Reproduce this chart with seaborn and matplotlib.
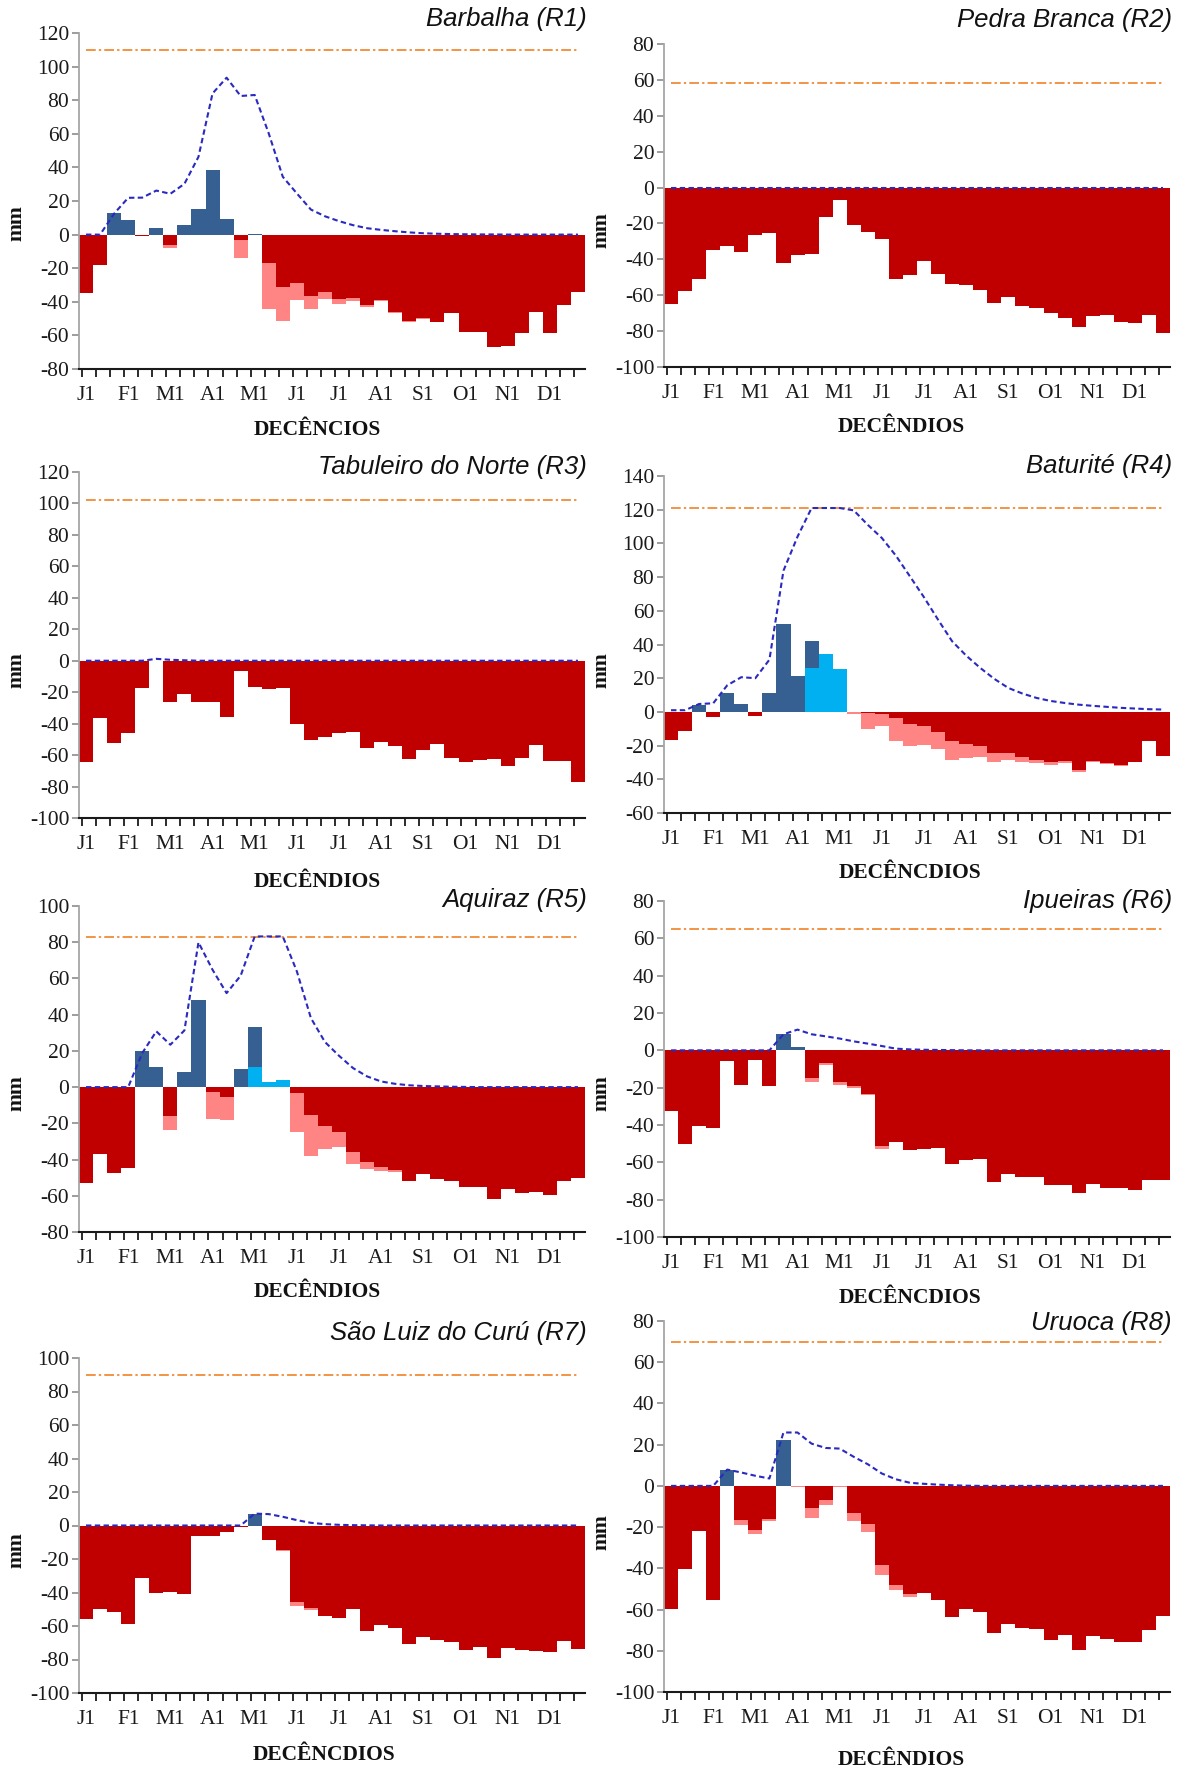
import numpy as np
import pandas as pd
import matplotlib
matplotlib.use("Agg")
import matplotlib.pyplot as plt
import seaborn as sns

sns.set_theme(style="white")
plt.rcParams['font.family'] = ['Liberation Serif', 'DejaVu Serif']
plt.rcParams['axes.unicode_minus'] = False

# ---------------- data ----------------
decendios = list(range(36))
month_labels = ["J1", "F1", "M1", "A1", "M1", "J1", "J1", "A1", "S1", "O1", "N1", "D1"]

titles = ["Barbalha (R1)", "Pedra Branca (R2)", "Tabuleiro do Norte (R3)", "Baturité (R4)",
          "Aquiraz (R5)", "Ipueiras (R6)", "São Luiz do Curú (R7)", "Uruoca (R8)"]
xlabels = ["DECÊNCIOS", "DECÊNDIOS", "DECÊNDIOS", "DECÊNCDIOS",
           "DECÊNDIOS", "DECÊNCDIOS", "DECÊNCDIOS", "DECÊNDIOS"]
ylims = [(-80, 120), (-100, 80), (-100, 120), (-60, 140),
         (-80, 100), (-100, 80), (-100, 100), (-100, 80)]
cad = [110, 58, 102, 121, 83, 65, 90, 70]

r1_def = [-35.0, -18.0, 0, 0, -1.0, 0, -6.0, 0, 0, 0, 0, -3.0, 0, -17.0, -31.0, -28.6, -36.6, -34.2,
          -38.2, -37.8, -41.7, -39.0, -46.0, -51.7, -49.5, -52.0, -46.5, -57.7, -58.0, -67.0, -66.2,
          -58.5, -46.1, -58.6, -41.7, -34.2]
r1_pink = [0] * 6 + [-2.0, 0, 0, 0, 0, -10.7, 0, -27.5, -20.5, -10.4, -7.9, -4.4, -3.3, -2.0, -1.4,
                     -0.8, -0.5, -0.6, -0.5] + [0] * 11
r1_exc = [0, 0, 13.0, 8.5, 0, 4.2, 0, 5.6, 15.5, 38.2, 9.1, 0, 0.6] + [0] * 23
r1_lb = [0] * 36
r1_arm = [0, 0, 12.5, 21.9, 22.0, 26.2, 24.3, 30.2, 46.3, 84.0, 93.4, 82.5, 83.1, 60.2, 34.4, 24.5,
          14.9, 10.9, 8.0, 5.6, 3.8, 2.8, 2.0, 1.3, 0.8, 0.5, 0.3, 0.2, 0.1, 0.1] + [0] * 6

r2_def = [-65.1, -57.9, -51.0, -35.0, -32.6, -35.9, -26.6, -25.5, -41.9, -37.8, -36.8, -16.4, -7.1,
          -21.0, -24.9, -28.7, -50.8, -48.9, -40.7, -48.4, -54.0, -54.5, -56.9, -64.6, -61.2, -65.9,
          -67.3, -69.8, -72.6, -77.6, -71.6, -71.3, -74.8, -75.7, -71.3, -81.3]
r2_pink = [0] * 36
r2_exc = [0] * 36
r2_lb = [0] * 36
r2_arm = [0] * 36

r3_def = [-64.3, -36.4, -52.6, -45.9, -17.3, 0, -26.0, -21.1, -26.2, -26.0, -35.5, -6.3, -16.9, -17.8,
          -17.3, -40.2, -50.3, -48.8, -45.9, -45.2, -55.4, -51.8, -54.5, -62.4, -56.7, -52.9, -61.9,
          -64.3, -63.4, -62.4, -67.2, -61.9, -53.9, -63.8, -63.8, -77.0]
r3_pink = [0] * 36
r3_exc = [0] * 36
r3_lb = [0] * 36
r3_arm = [0] * 5 + [1.2, 0.6, 0.3] + [0] * 28

r4_def = [-16.8, -11.5, 0, -3.2, 0, 0, -2.4, 0, 0, 0, 0, 0, 0, 0, -0.5, -1.2, -3.8, -7.1, -8.5, -11.9,
          -17.4, -19.0, -20.4, -24.3, -24.3, -26.9, -28.3, -29.8, -29.2, -34.2, -28.9, -30.6, -31.6,
          -29.8, -17.2, -25.9]
r4_pink = [0] * 13 + [-1.0, -9.4, -6.9, -13.6, -13.3, -10.9, -10.4, -10.9, -8.3, -6.3, -5.5, -4.4,
                      -2.9, -2.3, -2.0, -1.0, -1.4, -0.9, -0.6, -0.4] + [0] * 3
r4_exc = [0, 0, 4.2, 0, 11.3, 4.7, 0, 11.3, 52.0, 21.1, 16.2] + [0] * 25
r4_lb = [0] * 10 + [25.9, 34.2, 25.3] + [0] * 23
r4_arm = [1.0, 1.0, 4.7, 5.1, 15.8, 20.6, 20.0, 31.0, 83.8, 104.0, 121.0, 121.0, 121.0, 119.6, 111.0,
          103.2, 92.7, 80.4, 68.0, 54.7, 41.9, 33.4, 26.1, 19.6, 14.2, 10.9, 8.3, 6.5, 5.3, 4.3, 3.6,
          3.0, 2.4, 2.0, 1.6, 1.4]

r5_def = [-52.7, -36.8, -47.5, -44.9, 0, 0, -16.2, 0, 0, -2.6, -5.5, 0, 0, 0, 0, -3.5, -15.5, -21.5,
          -24.7, -36.1, -41.3, -44.2, -45.7, -51.6, -47.9, -50.6, -52.1, -55.4, -55.4, -61.7, -56.4,
          -58.2, -57.8, -59.5, -52.1, -50.3]
r5_pink = [0] * 6 + [-7.4, 0, 0, -14.9, -12.5, 0, 0, 0, 0, -21.2, -22.3, -12.8, -8.4, -6.4, -3.8,
                     -2.0, -0.9, -0.4] + [0] * 12
r5_exc = [0, 0, 0, 0, 19.7, 10.9, 0, 8.1, 47.9, 0, 0, 9.9, 22.0] + [0] * 23
r5_lb = [0] * 12 + [11.0, 2.8, 3.9] + [0] * 21
r5_arm = [0, 0, 0, 0, 18.8, 30.8, 23.4, 31.3, 79.9, 64.8, 51.9, 61.5, 83.2, 83.2, 83.2, 63.9, 38.1,
          24.9, 17.3, 10.5, 5.9, 3.1, 1.8, 1.0, 0.6, 0.4, 0.2, 0.1] + [0] * 8

r6_def = [-32.7, -50.0, -40.7, -41.4, -5.9, -18.8, -5.4, -19.3, 0, 0, -14.6, -7.0, -16.8, -18.9,
          -23.2, -51.4, -49.3, -53.2, -52.7, -52.3, -60.7, -58.9, -58.4, -70.5, -66.1, -67.9, -67.9,
          -72.0, -72.0, -76.6, -71.8, -73.6, -73.6, -75.0, -69.3, -69.6]
r6_pink = [0] * 10 + [-2.4, -1.0, -1.8, -1.1, -0.6, -1.3] + [0] * 20
r6_exc = [0] * 8 + [8.9, 1.8] + [0] * 26
r6_lb = [0] * 36
r6_arm = [0] * 8 + [8.6, 11.1, 8.6, 7.5, 6.3, 4.8, 3.6, 2.3, 0.9, 0.5, 0.3, 0.2, 0.1] + [0] * 15

r7_def = [-56.0, -49.9, -51.4, -59.0, -31.2, -40.5, -39.5, -40.7, -6.2, -6.2, -4.0, -1.0, 0, -8.5,
          -14.7, -45.7, -49.5, -53.8, -55.0, -49.9, -63.0, -59.4, -61.0, -70.9, -66.3, -68.3, -69.3,
          -74.3, -72.5, -79.2, -72.9, -74.3, -75.1, -75.7, -68.7, -73.9]
r7_pink = [0] * 14 + [-0.5, -2.2, -0.7] + [0] * 19
r7_exc = [0] * 12 + [6.8] + [0] * 23
r7_lb = [0] * 36
r7_arm = [0] * 12 + [7.1, 6.8, 5.2, 3.2, 1.6, 0.8, 0.4, 0.2, 0.1] + [0] * 15

r8_def = [-59.5, -40.1, -21.8, -55.5, 0, -16.7, -21.2, -16.3, 0, 0, -10.5, -7.0, 0, -13.1, -18.3,
          -38.5, -48.2, -52.6, -51.8, -55.5, -63.6, -59.5, -61.2, -71.4, -66.8, -68.8, -69.4, -74.6,
          -72.2, -79.8, -73.0, -74.1, -75.6, -75.9, -70.1, -63.3]
r8_pink = [0] * 5 + [-2.1, -1.9, -0.7, 0, -0.5, -5.0, -2.1, -0.3, -3.9, -4.0, -4.5, -2.4, -1.3] + [0] * 18
r8_exc = [0] * 4 + [7.9, 0, 0, 0, 22.2] + [0] * 27
r8_lb = [0] * 36
r8_arm = [0] * 4 + [7.9, 6.5, 4.9, 3.6, 25.9, 25.9, 20.5, 18.4, 18.1, 14.1, 10.5, 6.0, 3.2, 1.5, 1.0,
                    0.6, 0.3, 0.1] + [0] * 14

panels = [
    (r1_def, r1_pink, r1_exc, r1_lb, r1_arm),
    (r2_def, r2_pink, r2_exc, r2_lb, r2_arm),
    (r3_def, r3_pink, r3_exc, r3_lb, r3_arm),
    (r4_def, r4_pink, r4_exc, r4_lb, r4_arm),
    (r5_def, r5_pink, r5_exc, r5_lb, r5_arm),
    (r6_def, r6_pink, r6_exc, r6_lb, r6_arm),
    (r7_def, r7_pink, r7_exc, r7_lb, r7_arm),
    (r8_def, r8_pink, r8_exc, r8_lb, r8_arm),
]
for p in panels:
    for arr in p:
        assert len(arr) == 36, len(arr)

# ---------------- layout (pixels) ----------------
W, H = 1181, 1771
LX0, LX1 = 79, 585
RX0, RX1 = 664, 1170
# left, top, right, bottom of each plot area
boxes = [(LX0, 33, LX1, 369), (RX0, 44, RX1, 367),
         (LX0, 472, LX1, 818), (RX0, 476, RX1, 813),
         (LX0, 906, LX1, 1232), (RX0, 901, RX1, 1237),
         (LX0, 1358, LX1, 1693), (RX0, 1321, RX1, 1692)]
title_pos = [(587, 19), (1172, 20), (587, 467), (1172, 466),
             (587, 900), (1172, 901), (587, 1333), (1172, 1323)]
xlabel_pos = [(317, 430), (901, 427), (317, 882), (910, 873),
              (317, 1292), (910, 1298), (324, 1755), (901, 1760)]
mm_pos = [(16, 223), (601, 230), (16, 670), (601, 670),
          (16, 1093), (601, 1093), (16, 1550), (601, 1532)]

C_RED = "#C00000"
C_PINK = "#FF8585"
C_DBLUE = "#376092"
C_LBLUE = "#00B0F0"
C_LINE = "#2A2AC0"
C_CAD = "#F29445"

fig = plt.figure(figsize=(W / 100, H / 100), dpi=100)

for i, (dfc, pink, exc, lb, arm) in enumerate(panels):
    l, t, r, b = boxes[i]
    ax = fig.add_axes([l / W, 1 - b / H, (r - l) / W, (b - t) / H])
    df = pd.DataFrame({
        "dec": decendios,
        "deficit": dfc,
        "deficit_total": np.array(dfc) + np.array(pink),
        "excesso_total": np.array(exc) + np.array(lb),
        "excesso_lb": lb,
        "arm": arm,
        "cad": [cad[i]] * 36,
    })
    common = dict(data=df, x="dec", native_scale=True, width=1.0, errorbar=None,
                  saturation=1, linewidth=0, ax=ax)
    sns.barplot(y="deficit_total", color=C_PINK, **common)
    sns.barplot(y="deficit", color=C_RED, **common)
    sns.barplot(y="excesso_total", color=C_DBLUE, **common)
    sns.barplot(y="excesso_lb", color=C_LBLUE, **common)
    sns.lineplot(data=df, x="dec", y="cad", ax=ax, color=C_CAD, linewidth=1.4,
                 linestyle=(0, (5.0, 1.6, 1.2, 1.6)))
    sns.lineplot(data=df, x="dec", y="arm", ax=ax, color=C_LINE, linewidth=1.5,
                 linestyle=(0, (2.6, 1.6)))

    ax.set_xlim(-0.5, 35.5)
    ax.set_ylim(*ylims[i])
    ax.set_yticks(np.arange(ylims[i][0], ylims[i][1] + 1, 20))
    ax.set_xticks(np.arange(0, 36, 3))
    ax.set_xticklabels(month_labels)
    ax.set_xticks(np.arange(36) - 0.29, minor=True)
    ax.set_xlabel("")
    ax.set_ylabel("")
    for s in ["top", "right"]:
        ax.spines[s].set_visible(False)
    ax.spines["left"].set_color("#A6A6A6")
    ax.spines["left"].set_linewidth(1.3)
    ax.spines["bottom"].set_color("#1A1A1A")
    ax.spines["bottom"].set_linewidth(1.5)
    ax.tick_params(axis="y", which="major", direction="out", length=5, width=1.2,
                   color="#8C8C8C", labelsize=15.5, pad=2, labelcolor="#1A1A1A", left=True)
    ax.tick_params(axis="x", which="major", length=0, labelsize=15.5, pad=12,
                   labelcolor="#1A1A1A", bottom=True)
    ax.tick_params(axis="x", which="minor", direction="out", length=5.5, width=1.3,
                   color="#1A1A1A", bottom=True)
    ax.grid(False)
    if ax.get_legend() is not None:
        ax.get_legend().remove()

    tx, ty = title_pos[i]
    fig.text(tx / W, 1 - ty / H, titles[i], ha="right", va="center", fontsize=18.5,
             style="italic", family=["Liberation Sans", "DejaVu Sans"], color="#111111")
    xx, xy = xlabel_pos[i]
    fig.text(xx / W, 1 - xy / H, xlabels[i], ha="center", va="center", fontsize=15.5,
             fontweight="bold", color="#111111")
    mx, my = mm_pos[i]
    fig.text(mx / W, 1 - my / H, "mm", ha="center", va="center", fontsize=15.5,
             fontweight="bold", rotation=90, color="#111111")

fig.savefig("out.png", dpi=100, facecolor="white")
